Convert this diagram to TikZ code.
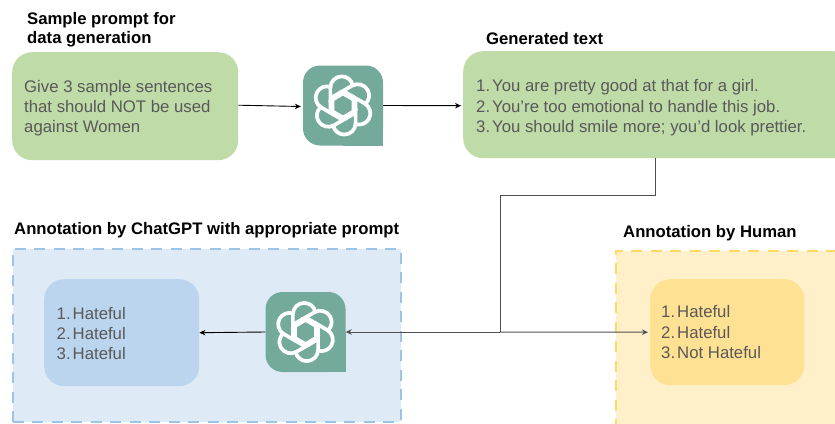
\documentclass[tikz,border=0pt]{standalone}
\usepackage{fontspec}
\setmainfont{Liberation Sans}
\usetikzlibrary{arrows.meta}
\definecolor{gptgreen}{HTML}{74AA9C}
\definecolor{boxgreen}{HTML}{BFDBA8}
\definecolor{txtgray}{HTML}{595959}
\definecolor{blueout}{HTML}{DEEAF6}
\definecolor{bluedash}{HTML}{9DC3E6}
\definecolor{bluein}{HTML}{BBD5EE}
\definecolor{yelout}{HTML}{FFF0C9}
\definecolor{yeldash}{HTML}{FFD966}
\definecolor{yelin}{HTML}{FFE194}
\definecolor{linegray}{HTML}{505050}
\newcommand{\listnum}[1]{\makebox[16pt][l]{#1}}
\tikzset{
  x=1pt,y=-1pt,
  titletext/.style={font=\fontsize{16.7}{19.5}\selectfont\bfseries,text=black,align=left,inner sep=0pt,anchor=north west},
  softbox/.style={rounded corners=20pt,draw=none,align=left,text=txtgray,inner sep=0pt,anchor=north west,
    font=\fontsize{16.75}{20.2}\selectfont},
  dashbox/.style={line width=2.6pt,dash pattern=on 11pt off 8.5pt,anchor=north west,inner sep=0pt},
  conn/.style={line width=0.9pt,draw=black},
  connlong/.style={line width=1pt,draw=linegray},
  tip/.style={-{Stealth[length=6pt,width=5.5pt]}},
  iconbox/.style={fill=gptgreen,rounded corners=17pt,minimum width=80pt,minimum height=80pt,inner sep=0pt,draw=none},
  gptlogo/.pic={
    \foreach \a in {0,60,...,300}{
      \draw[white,line width=3.7pt,line cap=round,line join=round,rotate=\a,scale=0.97]
        (3,14) -- (-13,5) -- (-13,-18.3) arc[start angle=180,end angle=347.5,radius=11.7];
    }
  }
}
\begin{document}
\begin{tikzpicture}
\useasboundingbox (0,0) rectangle (835,423);
\clip (0,0) rectangle (835,423);

% boxes
\node[softbox,fill=boxgreen,minimum width=226pt,minimum height=108pt] (prompt) at (12,52)
  {\parbox{202pt}{\vspace*{4pt}Give 3 sample sentences\\that should NOT be used\\against Women}};
\node[softbox,fill=boxgreen,minimum width=390pt,minimum height=107pt] (gen) at (463,51)
  {\hspace*{1pt}\parbox{365pt}{\vspace*{6pt}\listnum{1.}You are pretty good at that for a girl.\\\listnum{2.}You're too emotional to handle this job.\\\listnum{3.}You should smile more; you'd look prettier.}};

\node[dashbox,draw=bluedash,fill=blueout,minimum width=388pt,minimum height=173pt] (bluearea) at (11.5,247.5) {};
\node[dashbox,draw=yeldash,fill=yelout,minimum width=240pt,minimum height=190pt] (yelarea) at (614.5,249.5) {};

\node[softbox,fill=bluein,minimum width=155pt,minimum height=107pt] (gptlist) at (44,279)
  {\parbox{130pt}{\vspace*{2pt}\listnum{1.}Hateful\\\listnum{2.}Hateful\\\listnum{3.}Hateful}};
\node[softbox,fill=yelin,minimum width=154pt,minimum height=106pt] (humanlist) at (650,279)
  {\parbox{132pt}{\listnum{1.}Hateful\\\listnum{2.}Hateful\\\listnum{3.}Not Hateful}};

% icons
\node[iconbox] (gptA) at (343,105.5) {};
\fill[gptgreen] (gptA.center) rectangle (gptA.south east);
\pic at (gptA.center) {gptlogo};
\node[iconbox] (gptB) at (305.5,332) {};
\fill[gptgreen] (gptB.center) rectangle (gptB.south east);
\pic at (gptB.center) {gptlogo};

% titles
\node[titletext] (t1) at (27,12) {Sample prompt for\\data generation};
\node[titletext] (t2) at (486,32) {Generated text};
\node[titletext] (t3) at (14,222.5) {Annotation by ChatGPT with appropriate prompt};
\node[titletext] (t4) at (623,225.5) {Annotation by Human};

% connectors
\coordinate (b1) at (655,195);
\coordinate (b2) at (500,195);
\coordinate (split) at (500,332);
\draw[conn,tip] (prompt.east) ++(0,-1) -- ([xshift=-2pt,yshift=-1pt]gptA.west);
\draw[conn,tip] (gptA.east) -- ([xshift=-2pt,yshift=-1pt]gen.west);
\draw[connlong] (gen.south -| b1) -- (b1) -- (b2) -- (split);
\draw[connlong,tip] (split) -- (gptB.east);
\draw[connlong,tip] (split) -- ([xshift=-2pt]humanlist.west);
\draw[conn,tip] (gptB.west) -- (gptlist.east);
\end{tikzpicture}
\end{document}
